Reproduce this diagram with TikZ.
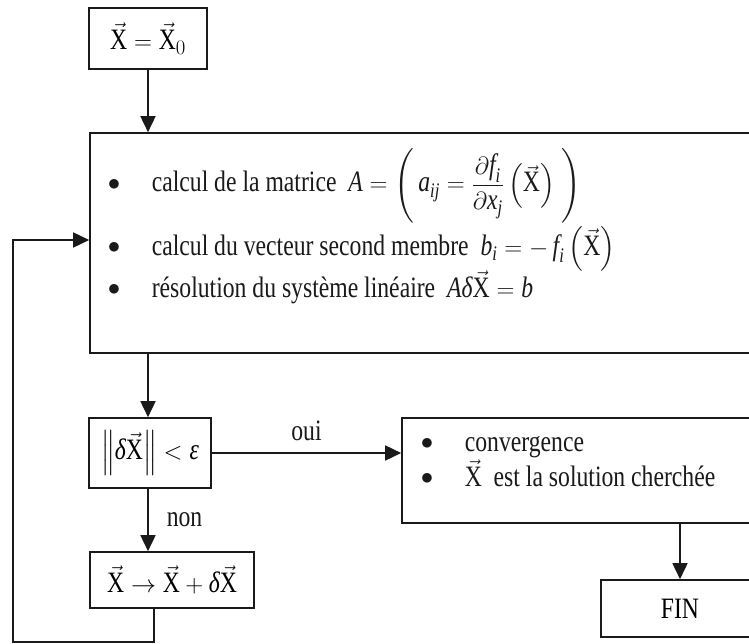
\documentclass[tikz,border=0pt]{standalone}
\usepackage{amsmath}
\usepackage{fontspec}
\setmainfont{Liberation Serif}[FakeStretch=0.8]
\usepackage{tikz}
\usetikzlibrary{arrows.meta,positioning}
\definecolor{Ink}{HTML}{1A1A1A}
\newcommand{\chartfont}{\fontsize{29.6}{35}\selectfont}
\newcommand{\vX}{\vec{\text{X}}}
\newcommand{\bul}{\makebox[44pt][l]{\raisebox{1.2pt}{\fontsize{25}{25}\selectfont$\bullet$}}}
\tikzset{
  every picture/.style={line width=1.6pt},
  stepbox/.style={
    draw=Ink,
    rectangle,
    inner sep=0pt,
    fill=white,
    font=\chartfont
  },
  itemline/.style={anchor=base west, inner sep=0pt, font=\chartfont, text=Ink},
  flowarrow/.style={-{Triangle[length=16pt,width=15pt]}, draw=Ink},
  tinylabel/.style={font=\chartfont, inner sep=1pt, text=Ink}
}

\begin{document}
\begin{tikzpicture}[x=1pt,y=-1pt]
  \fill[white] (0,0) rectangle (749,644);
  \useasboundingbox (0,0) rectangle (749,644);
  \clip (0,0) rectangle (749,644);

  \node[stepbox, minimum width=118pt, minimum height=61pt] (init) at (148,38.5) {$\vX=\vX_{0}$};

  \node[stepbox, minimum width=710pt, minimum height=220pt] (calc) at (445,243) {};
  \node[itemline] (lineA) at (107,192) {\bul calcul de la matrice\ \ $\textit{A}=\left(\,\textit{a}_{\textit{ij}}=\dfrac{\partial\textit{f}_{\textit{i}}}{\partial\textit{x}_{\textit{j}}}\left(\vX\right)\;\right)$};
  \node[itemline] (lineB) at (107,255) {\bul calcul du vecteur second membre\ \ $\textit{b}_{\textit{i}}=-\,\textit{f}_{\textit{i}}\left(\vX\right)$};
  \node[itemline] (lineC) at (107,297) {\bul résolution du système linéaire\ \ $\textit{A}\textit{δ}\vX=\textit{b}$};

  \node[stepbox, minimum width=122pt, minimum height=70pt] (test) at (150,453) {$\left\|\textit{δ}\vX\right\|<\textit{ε}$};
  \node[stepbox, minimum width=164pt, minimum height=56pt] (update) at (172,580) {$\vX\rightarrow\vX+\textit{δ}\vX$};

  \node[stepbox, minimum width=400pt, minimum height=105pt] (conv) at (602,470.5) {};
  \node[itemline] (convA) at (420,451) {\bul convergence};
  \node[itemline] (convB) at (420,486) {\bul $\vX$\ \ est la solution cherchée};

  \node[stepbox, minimum width=158pt, minimum height=57pt] (fin) at (680,608.5) {FIN};

  \coordinate (back) at (13,642);

  % main path
  \draw[flowarrow] (init.south) -- (init.south |- calc.north);
  \draw[flowarrow] (init.south |- calc.south) -- (init.south |- test.north);
  \draw[flowarrow] (init.south |- test.south) -- node[tinylabel, right=17pt] {non} (init.south |- update.north);
  \draw[flowarrow] (test.east) -- node[tinylabel, above=10pt] {oui} (test.east -| conv.west);
  \draw[flowarrow] (fin.north |- conv.south) -- (fin.north);

  % loop back
  \draw[flowarrow] ([xshift=-18pt]update.south) |- (back) |- ([yshift=3pt]calc.west);
\end{tikzpicture}
\end{document}
